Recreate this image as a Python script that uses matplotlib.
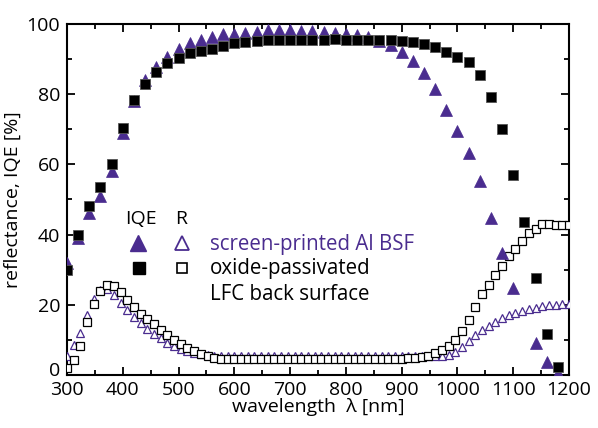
import numpy as np
import matplotlib
matplotlib.use("Agg")
import matplotlib.pyplot as plt
import matplotlib.transforms as mtransforms
from matplotlib.ticker import MultipleLocator

plt.rcParams['font.family'] = ['Open Sans', 'DejaVu Sans']

# IQE measured every 20 nm
iqe_wl = list(range(300, 1181, 20))
iqe_bsf = [32, 39, 46, 51, 58, 69, 78, 84, 87.6, 90.7,
           93, 94.6, 95.5, 96.4, 97, 97.2, 97.5, 97.8, 98.2, 98.4,
           98.4, 98.1, 97.9, 97.6, 97.3, 97.1, 96.8, 96.2, 95.2, 94,
           92.1, 89.5, 86, 81.6, 75.4, 69.5, 63.3, 55.2, 44.8, 34.8,
           24.8, np.nan, 9.2, 3.8, 0.5]
iqe_lfc = [30, 40, 48, 53.5, 60, 70.3, 78.3, 82.9, 86.4, 89,
           90.2, 91.6, 92.4, 93, 93.7, 94.5, 94.8, 95.2, 95.5, 95.5,
           95.3, 95.4, 95.4, 95.4, 95.6, 95.5, 95.5, 95.5, 95.5, 95.3,
           95.1, 94.9, 94.2, 93.4, 92.1, 90.5, 89.2, 85.5, 79.2, 70.2,
           56.9, 43.6, 27.6, 11.6, 2.2]

# reflectance measured every 12 nm
r_wl = list(range(300, 1201, 12))
r_bsf = [5.5, 8.5, 12, 17, 21.5, 24.2, 24.5, 22.8, 20.6, 18.4,
         16.5, 14.8, 13.2, 11.8, 10.4, 9.2, 8.2, 7.4, 6.8, 6.3,
         5.9, 5.6, 5.4, 5.3, 5.3, 5.3, 5.3, 5.3, 5.3, 5.3,
         5.3, 5.3, 5.3, 5.3, 5.3, 5.3, 5.3, 5.3, 5.3, 5.3,
         5.3, 5.3, 5.3, 5.3, 5.3, 5.3, 5.3, 5.3, 5.3, 5.3,
         5.3, 5.3, 5.3, 5.3, 5.3, 5.3, 5.4, 5.8, 6.6, 8.0,
         9.6, 11.3, 12.7, 14.0, 15.1, 16.1, 17.0, 17.7, 18.3, 18.8,
         19.2, 19.5, 19.8, 20.0, 20.2, 20.2]
r_lfc = [2, 4.3, 8.3, 15.2, 20.2, 23.8, 25.7, 25.2, 23.5, 21.3,
         19.3, 17.5, 16, 14.4, 12.9, 11.3, 9.9, 8.7, 7.7, 6.8,
         6.1, 5.4, 4.9, 4.6, 4.4, 4.4, 4.4, 4.4, 4.4, 4.4,
         4.4, 4.4, 4.4, 4.4, 4.4, 4.4, 4.4, 4.4, 4.4, 4.4,
         4.4, 4.4, 4.4, 4.4, 4.4, 4.4, 4.4, 4.4, 4.5, 4.5,
         4.6, 4.7, 4.8, 5.0, 5.5, 6.2, 7.1, 8.3, 10, 12.4,
         15.7, 19.3, 23.1, 25.7, 28.6, 31.1, 33.8, 35.9, 38.1, 40.3,
         41.6, 42.9, 42.9, 42.6, 42.6, 42.6][:len(r_wl)]

x_ticks = [300, 400, 500, 600, 700, 800, 900, 1000, 1100, 1200]
y_ticks = [0, 20, 40, 60, 80, 100]

purple = '#4a2c8f'
fs = 14

fig = plt.figure(figsize=(5.98, 4.28), dpi=100)
ax = fig.add_axes([0.112, 0.124, 0.8395, 0.820])

ax.plot(r_wl, r_bsf, linestyle='none', marker='^', ms=5.8, mfc='white',
        mec=purple, mew=0.9, zorder=3)
ax.plot(r_wl, r_lfc, linestyle='none', marker='s', ms=5.3, mfc='white',
        mec='black', mew=0.9, zorder=4)
ax.plot(iqe_wl, iqe_bsf, linestyle='none', marker='^', ms=9.0, mfc=purple,
        mec=purple, mew=0.5, zorder=5)
ax.plot(iqe_wl, iqe_lfc, linestyle='none', marker='s', ms=7.0, mfc='black',
        mec='#555555', mew=0.6, zorder=6)

ax.set_xlim(300, 1200)
ax.set_ylim(0, 100)
ax.set_xticks(x_ticks)
ax.set_yticks(y_ticks)
ax.xaxis.set_minor_locator(MultipleLocator(50))
ax.yaxis.set_minor_locator(MultipleLocator(10))
ax.tick_params(which='both', direction='in', top=True, right=True,
               labelsize=fs, width=1.3)
ax.tick_params(axis='x', pad=4.5)
ax.tick_params(axis='y', pad=5)
ax.tick_params(which='major', length=6)
ax.tick_params(which='minor', length=3.5)
for s in ax.spines.values():
    s.set_linewidth(1.5)

# lift the "0" label a little so it clears the "300" below it
fig.canvas.draw()
zero_lbl = ax.get_yticklabels()[0]
zero_lbl.set_transform(zero_lbl.get_transform() +
                       mtransforms.ScaledTranslation(0, 4 / 72, fig.dpi_scale_trans))

ax.set_xlabel('wavelength  λ [nm]', fontsize=fs, labelpad=-1)
ax.set_ylabel('reflectance, IQE [%]', fontsize=fs, labelpad=3)

# hand-built key
ax.text(433, 44.3, 'IQE', fontsize=fs, ha='center', va='center')
ax.text(505, 44.3, 'R', fontsize=fs, ha='center', va='center')
ax.plot([427], [37.6], marker='^', ms=11, mfc=purple, mec=purple,
        linestyle='none', zorder=7)
ax.plot([507], [37.6], marker='^', ms=10.5, mfc='white', mec=purple,
        mew=1.3, linestyle='none', zorder=7)
ax.plot([429], [30.5], marker='s', ms=8, mfc='black', mec='black',
        linestyle='none', zorder=7)
ax.plot([507], [30.5], marker='s', ms=6.5, mfc='white', mec='black',
        mew=1.2, linestyle='none', zorder=7)
ax.text(556, 37.3, 'screen-printed Al BSF', fontsize=14.8, color=purple,
        ha='left', va='center')
ax.text(556, 30.3, 'oxide-passivated', fontsize=14.8, color='black',
        ha='left', va='center')
ax.text(556, 23.0, 'LFC back surface', fontsize=14.8, color='black',
        ha='left', va='center')

fig.savefig('out.png', dpi=100)
